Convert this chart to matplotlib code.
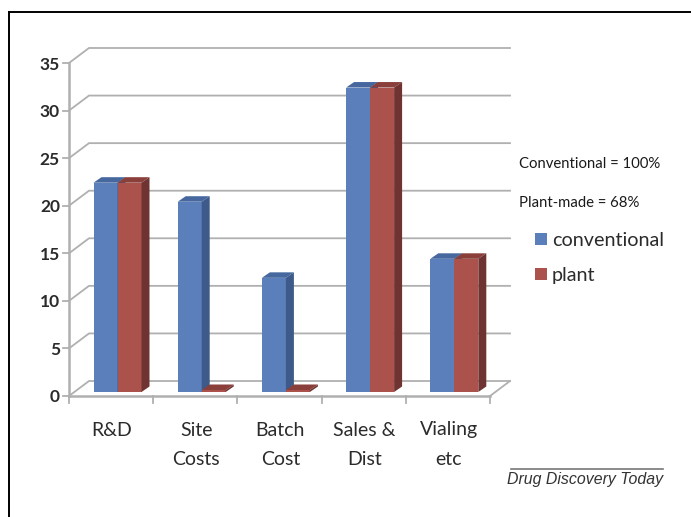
import numpy as np
import matplotlib
matplotlib.use('Agg')
import matplotlib.pyplot as plt

plt.rcParams['font.family'] = ['Lato', 'DejaVu Sans']

# 棒グラフのデータ
categories = ['R&D', 'Site\nCosts', 'Batch\nCost', 'Sales &\nDist', 'Vialing\netc']
conventional = [22, 20, 12, 32, 14]
plant = [22, 0, 0, 32, 14]
y_ticks = [0, 5, 10, 15, 20, 25, 30, 35]

# 色
blue = ['#5b7fbb', '#3e5a8a', '#46689f']
red = ['#ab524c', '#6f3431', '#8a3f3a']
grid_color = '#b0b0b0'
text_color = '#2b2b2b'

W, H = 691, 517
x0, y0 = 69, 396        # 軸の原点（ピクセル）
ux, uy = 84.2, 333 / 35  # 1カテゴリ / 1単位あたりのピクセル数

fig = plt.figure(figsize=(W / 100, H / 100), dpi=100)
ax = fig.add_axes([0, 0, 1, 1])
ax.set_xlim(-x0 / ux, (W - x0) / ux)
ax.set_ylim((y0 - H) / uy, y0 / uy)
ax.axis('off')

# 奥行き（データ座標）
dx_wall, dy_wall = 20 / ux, 15 / uy
dx_bar, dy_bar = 8 / ux, 5.5 / uy
base = 4 / uy
bar_w = 24 / ux
stub = 2 / uy  # 値0の棒の厚み
n = len(categories)

# 外枠
ax.plot([8.5 / ux - x0 / ux] * 2, [(y0 - H) / uy, (y0 - 11.5) / uy], color='black', lw=1.4)
ax.plot([8.5 / ux - x0 / ux, (W - x0) / ux], [(y0 - 11.5) / uy] * 2, color='black', lw=1.4)

# グリッドと床
for v in y_ticks:
    ax.plot([0, dx_wall, n + dx_wall], [v, v + dy_wall, v + dy_wall], color=grid_color, lw=1.3,
            solid_joinstyle='miter', zorder=1)
    ax.plot([-6 / ux, 0], [v, v], color=grid_color, lw=1.3, zorder=1)
    ax.text(-9 / ux, v - 1.5 / uy, str(v), ha='right', va='center', fontsize=12.5, fontweight='bold',
            color=text_color)
ax.plot([0, 0], [0, 35], color=grid_color, lw=1.8, zorder=1)
ax.plot([0, n], [0, 0], color=grid_color, lw=1.8, zorder=1)
ax.plot([n, n + dx_wall], [0, dy_wall], color=grid_color, lw=1.3, zorder=1)
for i in range(n + 1):
    ax.plot([i, i], [0, -7 / uy], color=grid_color, lw=1.3, zorder=1)


def draw_bar(x, v, colors):
    # 前面、上面、側面の順に描く
    h = v if v > 0 else stub
    top = base + h
    ax.bar(x, h, bar_w, bottom=base, align='edge', color=colors[0], lw=0, zorder=3)
    ax.fill([x, x + bar_w, x + bar_w + dx_bar, x + dx_bar],
            [top, top, top + dy_bar, top + dy_bar], color=colors[2], lw=0, zorder=3)
    ax.fill([x + bar_w, x + bar_w + dx_bar, x + bar_w + dx_bar, x + bar_w],
            [base, base + dy_bar, top + dy_bar, top], color=colors[1], lw=0, zorder=3)


for i in range(n):
    left = i + 24.5 / ux
    # 青を先に描いて赤の前面で側面を隠す
    draw_bar(left, conventional[i], blue)
    draw_bar(left + bar_w, plant[i], red)
    ax.text(i + 0.51, -25.5 / uy, categories[i], ha='center', va='top', fontsize=14,
            color=text_color, linespacing=1.88)

# 注記
ax.text((519 - x0) / ux, (y0 - 164) / uy, 'Conventional = 100%', ha='left', va='center',
        fontsize=10.7, color='#1a1a1a')
ax.text((519 - x0) / ux, (y0 - 203) / uy, 'Plant-made = 68%', ha='left', va='center',
        fontsize=10.7, color='#1a1a1a')

# 凡例
for name, c, py in [('conventional', blue[0], 239), ('plant', red[0], 274)]:
    ax.fill(np.array([535, 547, 547, 535]) / ux - x0 / ux,
            (y0 - py + np.array([-6, -6, 6, 6])) / uy, color=c, lw=0)
    ax.text((552 - x0) / ux, (y0 - py - 1.5) / uy, name, ha='left', va='center', fontsize=14.2, color=text_color)

# 出典
ax.plot(np.array([511, 663]) / ux - x0 / ux, [(y0 - 468.5) / uy] * 2, color='#777777', lw=1.2)
ax.text((663 - x0) / ux, (y0 - 479.5) / uy, 'Drug Discovery Today', ha='right', va='center',
        fontsize=11.4, style='italic', family=['Liberation Sans'], color='#333333')

fig.savefig('out.png', dpi=100)
